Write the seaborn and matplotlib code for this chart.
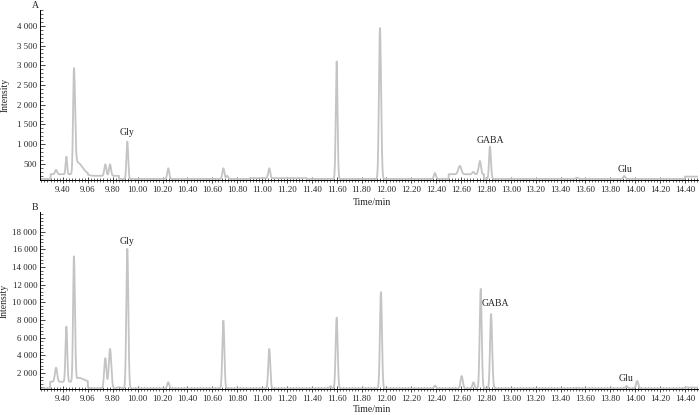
import numpy as np
import pandas as pd
import matplotlib
matplotlib.use("Agg")
import matplotlib.pyplot as plt
import seaborn as sns
from matplotlib.ticker import MultipleLocator

sns.set_style("ticks")
plt.rcParams['font.family'] = ['Liberation Serif', 'DejaVu Serif']

# ---------------- data ----------------
x_ticks = [9.40, 9.60, 9.80, 10.00, 10.20, 10.40, 10.60, 10.80, 11.00, 11.20, 11.40,
           11.60, 11.80, 12.00, 12.20, 12.40, 12.60, 12.80, 13.00, 13.20, 13.40,
           13.60, 13.80, 14.00, 14.20, 14.40]
x_tick_labels = ["9.40", "9.06", "9.80", "10.00", "10.20", "10.40", "10.60", "10.80",
                 "11.00", "11.20", "11.40", "11.60", "11.80", "12.00", "12.20", "12.40",
                 "12.60", "12.80", "13.00", "13.20", "13.40", "13.60", "13.80", "14.00",
                 "14.20", "14.40"]

a_yticks = [500, 1000, 1500, 2000, 2500, 3000, 3500, 4000]
a_ytick_labels = ["500", "1 000", "1 500", "2 000", "2 500", "3 000", "3 500", "4 000"]
b_yticks = [2000, 4000, 6000, 8000, 10000, 12000, 14000, 16000, 18000]
b_ytick_labels = ["2 000", "4 000", "6 000", "8 000", "10 000", "12 000", "14 000",
                  "16 000", "18 000"]

# Panel A: baseline steps (edges / levels) and peaks (time, height above baseline, sigma L, sigma R)
a_base_edges = [9.215, 9.30, 9.60, 9.85, 10.90, 11.36, 12.50, 12.785, 14.40, 14.505]
a_base_levels = [120, 240, 200, 120, 140, 120, 240, 120, 180]
a_peak_t = [9.344, 9.427, 9.488, 9.515, 9.740, 9.778, 9.917, 10.246, 10.689, 10.720,
            11.058, 11.600, 11.948, 12.390, 12.590, 12.698, 12.752, 12.832, 13.530, 13.912]
a_peak_h = [110, 445, 2630, 300, 290, 290, 946, 270, 270, 80,
            250, 2977, 3824, 150, 210, 60, 336, 819, 30, 75]
a_peak_sl = [0.008, 0.006, 0.007, 0.015, 0.008, 0.008, 0.007, 0.008, 0.008, 0.008,
             0.008, 0.007, 0.008, 0.008, 0.012, 0.008, 0.010, 0.007, 0.010, 0.008]
a_peak_sr = [0.008, 0.006, 0.009, 0.040, 0.008, 0.008, 0.007, 0.008, 0.008, 0.008,
             0.008, 0.007, 0.009, 0.008, 0.012, 0.008, 0.008, 0.008, 0.010, 0.008]

# Panel B
b_base_edges = [9.215, 9.296, 9.60, 14.40, 14.505]
b_base_levels = [250, 1000, 250, 350]
b_peak_t = [9.344, 9.427, 9.488, 9.525, 9.740, 9.778, 9.850, 9.917, 10.246, 10.689,
            11.058, 11.550, 11.600, 11.956, 12.390, 12.605, 12.700, 12.758, 12.841,
            13.530, 13.930, 14.016]
b_peak_h = [1600, 6250, 14190, 450, 3420, 4470, 150, 15810, 700, 7680,
            4470, 250, 8020, 10900, 300, 1410, 700, 11270, 8440,
            80, 280, 840]
b_peak_sl = [0.009, 0.007, 0.007, 0.015, 0.009, 0.010, 0.010, 0.008, 0.008, 0.008,
             0.008, 0.008, 0.008, 0.008, 0.008, 0.009, 0.008, 0.008, 0.008,
             0.010, 0.008, 0.009]
b_peak_sr = [0.009, 0.007, 0.008, 0.040, 0.009, 0.010, 0.010, 0.008, 0.008, 0.008,
             0.008, 0.008, 0.008, 0.008, 0.008, 0.009, 0.008, 0.008, 0.009,
             0.010, 0.008, 0.009]

a_labels = ["Gly", "GABA", "Glu"]
a_label_t = [9.917, 12.832, 13.915]
a_label_y = [1290, 1090, 370]
b_labels = ["Gly", "GABA", "Glu"]
b_label_t = [9.917, 12.877, 13.930]
b_label_y = [16890, 9820, 1430]


def trace(edges, levels, pt, ph, sl, sr):
    t = np.arange(edges[0], edges[-1], 0.0005)
    idx = np.clip(np.searchsorted(edges, t, side="right") - 1, 0, len(levels) - 1)
    y = np.asarray(levels, float)[idx]
    for c, h, s1, s2 in zip(pt, ph, sl, sr):
        s = np.where(t < c, s1, s2)
        y = y + h * np.exp(-0.5 * ((t - c) / s) ** 2)
    return pd.DataFrame({"Time/min": t, "Intensity": y})


df_a = trace(a_base_edges, a_base_levels, a_peak_t, a_peak_h, a_peak_sl, a_peak_sr)
df_b = trace(b_base_edges, b_base_levels, b_peak_t, b_peak_h, b_peak_sl, b_peak_sr)

fig = plt.figure(figsize=(7.0, 4.15), dpi=100)
ax_a = fig.add_axes([40 / 700, 1 - 180 / 415, 658 / 700, 170 / 415])
ax_b = fig.add_axes([40 / 700, 1 - 389 / 415, 658 / 700, 177 / 415])

line_color = "#c4c4c4"
fs = 6.4
fs_ann = 7.0

panels = [
    (ax_a, df_a, (94, 4400), a_yticks, a_ytick_labels, 100, "A", a_labels, a_label_t, a_label_y, -0.108, -0.046),
    (ax_b, df_b, (186, 20230), b_yticks, b_ytick_labels, 400, "B", b_labels, b_label_t, b_label_y, -0.088, -0.048),
]
for ax, df, ylim, yt, ytl, ymin, letter, labs, lt, ly, xly, ylx in panels:
    sns.lineplot(data=df, x="Time/min", y="Intensity", ax=ax, color=line_color,
                 linewidth=1.3, estimator=None, sort=False)
    ax.set_xlim(9.215, 14.505)
    ax.set_ylim(*ylim)
    ax.set_xticks(x_ticks)
    ax.set_xticklabels(x_tick_labels, fontsize=fs)
    ax.set_yticks(yt)
    ax.set_yticklabels(ytl, fontsize=fs)
    ax.xaxis.set_minor_locator(MultipleLocator(0.025))
    ax.yaxis.set_minor_locator(MultipleLocator(ymin))
    ax.tick_params(axis="x", which="major", direction="inout", length=4, width=0.6, pad=2.5)
    ax.tick_params(axis="x", which="minor", direction="inout", length=2.5, width=0.5)
    ax.tick_params(axis="y", which="major", direction="in", length=3.5, width=0.6, pad=2)
    ax.tick_params(axis="y", which="minor", direction="in", length=2, width=0.5)
    for side in ("top", "right"):
        ax.spines[side].set_visible(False)
    for side in ("left", "bottom"):
        ax.spines[side].set_linewidth(0.7)
        ax.spines[side].set_color("black")
    ax.set_xlabel("Time/min", fontsize=fs_ann)
    ax.xaxis.set_label_coords(0.505, xly)
    ax.set_ylabel("Intensity", fontsize=fs_ann)
    ax.yaxis.set_label_coords(ylx, 0.5)
    ax.text(-0.007, 1.0, letter, transform=ax.transAxes, fontsize=fs_ann,
            ha="center", va="bottom")
    for s, tx, ty in zip(labs, lt, ly):
        ax.text(tx, ty, s, fontsize=fs_ann, ha="center", va="center")

fig.savefig("out.png", dpi=100)
